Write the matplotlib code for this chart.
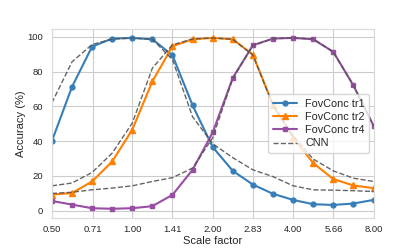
import numpy as np
import matplotlib.pyplot as plt
import seaborn as sns

# scale factors 2^(k/4), k = -4 .. 12
scales = 2.0 ** (np.arange(-4, 13) / 4.0)
tick_vals = [0.5, 0.71, 1.0, 1.41, 2.0, 2.83, 4.0, 5.66, 8.0]
tick_labels = ["0.50", "0.71", "1.00", "1.41", "2.00", "2.83", "4.00", "5.66", "8.00"]

fov_tr1 = [40.0, 71.2, 94.4, 99.0, 99.4, 98.6, 89.4, 60.6, 36.6, 22.9, 15.0, 9.7, 6.2, 3.7, 3.3, 4.1, 6.2]
fov_tr2 = [9.3, 10.1, 16.8, 28.3, 46.6, 74.4, 94.6, 98.6, 99.4, 98.6, 89.8, 61.0, 42.0, 27.4, 18.2, 14.5, 13.0]
fov_tr4 = [5.6, 3.5, 1.4, 1.1, 1.4, 2.6, 9.1, 23.5, 45.0, 76.4, 95.2, 99.0, 99.4, 98.6, 91.4, 72.1, 48.9]

cnn_tr1 = [62.0, 85.6, 95.6, 98.7, 99.3, 98.6, 86.9, 54.0, 38.5, 30.5, 23.5, 19.6, 14.3, 12.0, 11.8, 11.5, 11.0]
cnn_tr2 = [14.3, 15.9, 22.0, 33.1, 50.4, 82.0, 95.4, 98.8, 99.4, 98.6, 89.5, 60.5, 43.0, 29.7, 22.9, 18.7, 16.8]
cnn_tr4 = [9.9, 10.6, 12.0, 13.0, 14.3, 16.8, 19.0, 24.5, 42.0, 76.0, 95.0, 99.0, 99.4, 98.8, 91.2, 72.0, 49.0]

sns.set_style("whitegrid")
plt.rcParams["font.family"] = ["Liberation Sans", "DejaVu Sans"]

fig, ax = plt.subplots(figsize=(4.15, 2.49), dpi=100)
fig.subplots_adjust(left=0.125, right=0.9, top=0.882, bottom=0.126)

ax.plot(scales, fov_tr1, color="#377eb8", marker="o", ms=3.5, lw=1.5, label="FovConc tr1")
ax.plot(scales, fov_tr2, color="#ff7f00", marker="^", ms=3.8, lw=1.5, label="FovConc tr2")
ax.plot(scales, fov_tr4, color="#984ea3", marker="s", ms=3.5, lw=1.5, label="FovConc tr4")
for i, cnn in enumerate([cnn_tr1, cnn_tr2, cnn_tr4]):
    ax.plot(scales, cnn, color="#555555", ls="--", lw=1.0, alpha=0.9,
            label="CNN" if i == 0 else None)

ax.set_xscale("log", base=2)
ax.set_xlim(0.5, 8.0)
ax.set_xticks(tick_vals)
ax.set_xticklabels(tick_labels)
ax.minorticks_off()
ax.set_ylim(-4, 104.3)
ax.set_yticks([0, 20, 40, 60, 80, 100])
ax.tick_params(labelsize=6.8, colors="0.15", pad=3)
ax.tick_params(axis="x", pad=2)
ax.set_xlabel("Scale factor", fontsize=8, color="0.15", labelpad=1)
ax.set_ylabel("Accuracy (%)", fontsize=8, color="0.15", labelpad=1)
for s in ax.spines.values():
    s.set_color("0.85")

ax.legend(loc="center right", fontsize=7.8, handlelength=2.2, borderaxespad=0.4,
          labelspacing=0.3)

plt.savefig("out.png", dpi=100)
